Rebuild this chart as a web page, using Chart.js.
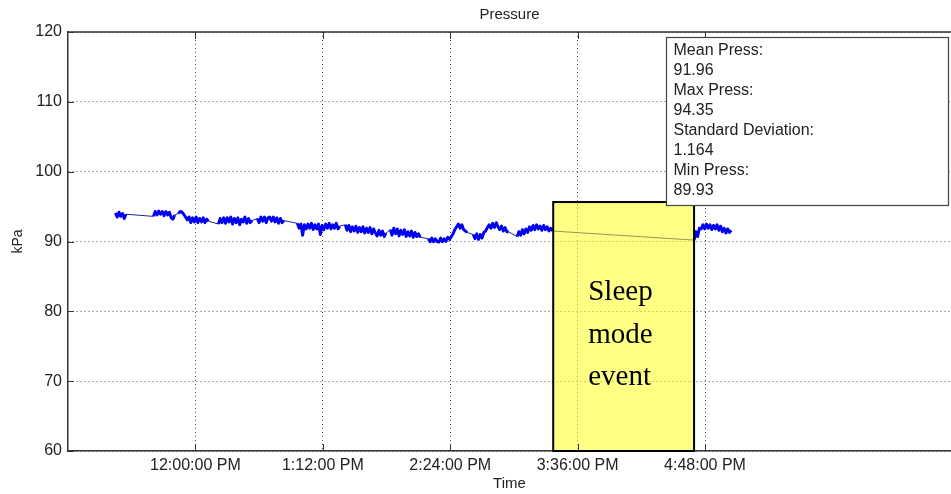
<!DOCTYPE html>
<html>
<head>
<meta charset="utf-8">
<title>Pressure</title>
<script src="https://cdn.jsdelivr.net/npm/chart.js@4.4.1/dist/chart.umd.min.js"></script>
<style>
  html, body { margin: 0; padding: 0; background: #ffffff; }
  #plot { display: block; }
</style>
</head>
<body>
<canvas id="plot" width="951" height="494"></canvas>
<script>
// Logged barometric pressure (kPa). Each run is a stretch of consecutive samples,
// one sample per minute, starting at runStartMin (minutes after midnight).
const sampleStepMin = 1;
const runStartMin = [674.8, 696.3, 710.4, 733.0, 755.0, 777.6, 804.7, 830.1, 851.6, 877.0, 901.8, 1001.8];
const runKpa = [
  [94.1, 93.5, 94.2, 93.6, 94.0, 93.3, 93.9],
  [93.6, 94.3, 93.8, 94.35, 93.9, 94.3, 93.7, 94.3, 93.8, 94.2, 93.4, 93.2, 93.8],
  [94.0, 94.3, 94.2, 93.9, 93.5, 93.1, 93.5, 92.7, 93.4, 92.8, 93.5, 92.7, 93.3, 92.8, 93.4, 92.7, 93.2, 92.9],
  [92.5, 93.3, 92.7, 93.4, 92.6, 93.4, 92.8, 93.5, 92.5, 93.3, 92.7, 93.4, 92.4, 93.2, 92.8, 93.5, 92.6, 93.3, 92.7, 93.0],
  [93.3, 92.7, 93.5, 92.9, 93.5, 92.7, 93.4, 93.5, 92.9, 93.5, 92.8, 93.4, 92.6, 93.3, 92.7, 93.0],
  [92.6, 91.9, 92.5, 90.9, 92.4, 91.8, 92.5, 91.9, 92.6, 91.7, 92.4, 91.8, 92.5, 91.0, 92.3, 91.7, 92.5, 91.9, 92.6, 91.8, 92.4, 91.9, 92.6, 91.8, 92.2],
  [92.4, 91.6, 92.3, 91.4, 92.1, 91.5, 92.2, 91.3, 92.0, 91.4, 92.1, 91.2, 91.9, 91.3, 92.0, 91.1, 91.8, 91.2, 90.8, 91.6, 90.9, 91.5, 90.7, 91.2],
  [91.7, 90.9, 91.9, 91.1, 91.8, 90.8, 91.6, 91.0, 91.7, 90.7, 91.4, 90.8, 91.5, 90.6, 91.3, 90.7, 91.1, 90.6],
  [90.4, 89.95, 90.5, 89.95, 90.4, 90.0, 89.93, 90.5, 89.96, 90.4, 90.0, 90.6, 90.3, 90.7, 91.1, 91.7, 92.1, 92.5, 91.9, 92.4, 91.7, 91.5, 91.3],
  [91.0, 90.4, 91.1, 90.3, 91.0, 90.5, 91.3, 91.5, 92.0, 92.4, 91.9, 92.6, 92.0, 92.7, 92.1, 91.7, 92.2, 91.5, 92.0, 91.4, 91.4],
  [90.7, 91.4, 90.9, 91.7, 91.1, 91.8, 91.3, 92.1, 91.6, 92.3, 91.7, 92.4, 91.8, 92.2, 91.6, 92.3, 91.7, 92.1, 91.5, 91.9, 91.5],
  [90.2, 91.4, 90.7, 91.9, 91.8, 92.4, 91.8, 92.5, 91.9, 92.4, 91.7, 92.3, 91.8, 92.4, 91.6, 92.2, 91.4, 91.9, 91.2, 91.8, 91.3, 91.6]
];

// Axis ranges and tick positions (minutes after midnight / kPa)
const timeRangeMin = [648, 1147];
const timeTicksMin = [720, 792, 864, 936, 1008];
const kpaRange = [60, 120];
const kpaStep = 10;

// Period in which the logger was asleep, and the top of its marker box (kPa)
const sleepWindowMin = [922.2, 1001.8];
const sleepTopKpa = 95.65;
const sleepLabelLines = ['Sleep', 'mode', 'event'];

// Summary statistics panel
const statLabels = ['Mean Press:', 'Max Press:', 'Standard Deviation:', 'Min Press:'];
const statValues = ['91.96', '94.35', '1.164', '89.93'];

const points = [];
runKpa.forEach((run, r) => {
  run.forEach((v, i) => points.push({ x: runStartMin[r] + i * sampleStepMin, y: v }));
});

function clockLabel(min) {
  const h24 = Math.floor(min / 60);
  const m = Math.round(min - h24 * 60);
  const suffix = h24 >= 12 ? 'PM' : 'AM';
  let h = h24 % 12;
  if (h === 0) h = 12;
  return h + ':' + String(m).padStart(2, '0') + ':00 ' + suffix;
}

// a jump longer than one sample interval is a logging gap: drawn as a thin join
const isGap = seg => seg.p1.parsed.x - seg.p0.parsed.x > sampleStepMin * 1.5;

const sansFont = "'Liberation Sans', Arial, sans-serif";
const textColor = '#222222';

const framePlugin = {
  id: 'frame',
  afterDatasetsDraw(chart) {
    const { ctx, chartArea: a, scales: { x, y } } = chart;
    ctx.save();

    // sleep-event marker: translucent yellow box with black outline
    const sx0 = x.getPixelForValue(sleepWindowMin[0]);
    const sx1 = x.getPixelForValue(sleepWindowMin[1]);
    const sy0 = y.getPixelForValue(sleepTopKpa);
    const sy1 = a.bottom;
    ctx.fillStyle = 'rgba(255, 255, 20, 0.52)';
    ctx.fillRect(sx0, sy0, sx1 - sx0, sy1 - sy0);
    ctx.strokeStyle = '#000000';
    ctx.lineWidth = 2;
    ctx.strokeRect(sx0, sy0, sx1 - sx0, sy1 - sy0);
    ctx.fillStyle = '#000000';
    ctx.font = "29px 'Liberation Serif', 'Times New Roman', serif";
    ctx.textAlign = 'left';
    ctx.textBaseline = 'alphabetic';
    sleepLabelLines.forEach((t, i) => ctx.fillText(t, sx0 + 35, sy0 + 98 + i * 42.5));

    // solid top edge of the axes box
    ctx.strokeStyle = '#333333';
    ctx.lineWidth = 1.5;
    ctx.beginPath();
    ctx.moveTo(a.left, a.top);
    ctx.lineTo(a.right, a.top);
    ctx.stroke();

    // inward tick marks
    ctx.lineWidth = 1;
    ctx.beginPath();
    y.ticks.forEach(t => {
      const py = Math.round(y.getPixelForValue(t.value)) + 0.5;
      ctx.moveTo(a.left, py);
      ctx.lineTo(a.left + 6, py);
    });
    x.ticks.forEach(t => {
      const px = Math.round(x.getPixelForValue(t.value)) + 0.5;
      ctx.moveTo(px, a.bottom);
      ctx.lineTo(px, a.bottom - 7);
      ctx.moveTo(px, a.top);
      ctx.lineTo(px, a.top + 7);
    });
    ctx.stroke();

    // statistics panel
    const bx = 666.5, by = 37.5, bw = 282, bh = 168;
    ctx.fillStyle = '#ffffff';
    ctx.fillRect(bx, by, bw, bh);
    ctx.strokeStyle = '#444444';
    ctx.lineWidth = 1.2;
    ctx.strokeRect(bx, by, bw, bh);
    ctx.fillStyle = textColor;
    ctx.font = '16px ' + sansFont;
    ctx.textBaseline = 'middle';
    statLabels.forEach((lab, i) => {
      ctx.fillText(lab, bx + 7, by + 13 + i * 40);
      ctx.fillText(statValues[i], bx + 7, by + 33 + i * 40);
    });

    // plot title
    ctx.textAlign = 'center';
    ctx.font = '15px ' + sansFont;
    ctx.fillText('Pressure', (a.left + a.right) / 2, 15);
    ctx.restore();
  }
};

new Chart(document.getElementById('plot'), {
  type: 'line',
  data: {
    datasets: [{
      label: 'Pressure',
      data: points,
      borderColor: '#0000f0',
      borderWidth: 2.9,
      borderJoinStyle: 'round',
      pointRadius: 0,
      tension: 0,
      fill: false,
      segment: {
        borderWidth: seg => (isGap(seg) ? 1 : 2.9),
        borderColor: seg => (isGap(seg) ? '#22229a' : '#0000f0')
      }
    }]
  },
  options: {
    responsive: false,
    animation: false,
    layout: { padding: { top: 32, left: 0, right: 0, bottom: 0 } },
    plugins: {
      legend: { display: false },
      title: { display: false },
      tooltip: { enabled: false }
    },
    scales: {
      x: {
        type: 'linear',
        min: timeRangeMin[0],
        max: timeRangeMin[1],
        afterBuildTicks: s => { s.ticks = timeTicksMin.map(v => ({ value: v })); },
        afterFit: s => { s.height = 43; },
        ticks: {
          callback: v => clockLabel(v),
          color: textColor,
          font: { family: sansFont, size: 16 },
          padding: 5,
          maxRotation: 0,
          autoSkip: false
        },
        grid: { color: '#555555', lineWidth: 1, drawTicks: false },
        border: { display: true, color: '#333333', width: 1.5, dash: [1, 3] },
        title: {
          display: true,
          text: 'Time',
          color: textColor,
          font: { family: sansFont, size: 15 },
          padding: { top: 0, bottom: 1 }
        }
      },
      y: {
        min: kpaRange[0],
        max: kpaRange[1],
        afterFit: s => { s.width = 68; },
        ticks: {
          stepSize: kpaStep,
          color: textColor,
          font: { family: sansFont, size: 16 },
          padding: 6
        },
        grid: { color: '#555555', lineWidth: 1, drawTicks: false },
        border: { display: true, color: '#333333', width: 1.5, dash: [1, 3] },
        title: {
          display: true,
          text: 'kPa',
          color: textColor,
          font: { family: sansFont, size: 14 },
          padding: { top: 10, bottom: 0 }
        }
      }
    }
  },
  plugins: [framePlugin]
});
</script>
</body>
</html>
